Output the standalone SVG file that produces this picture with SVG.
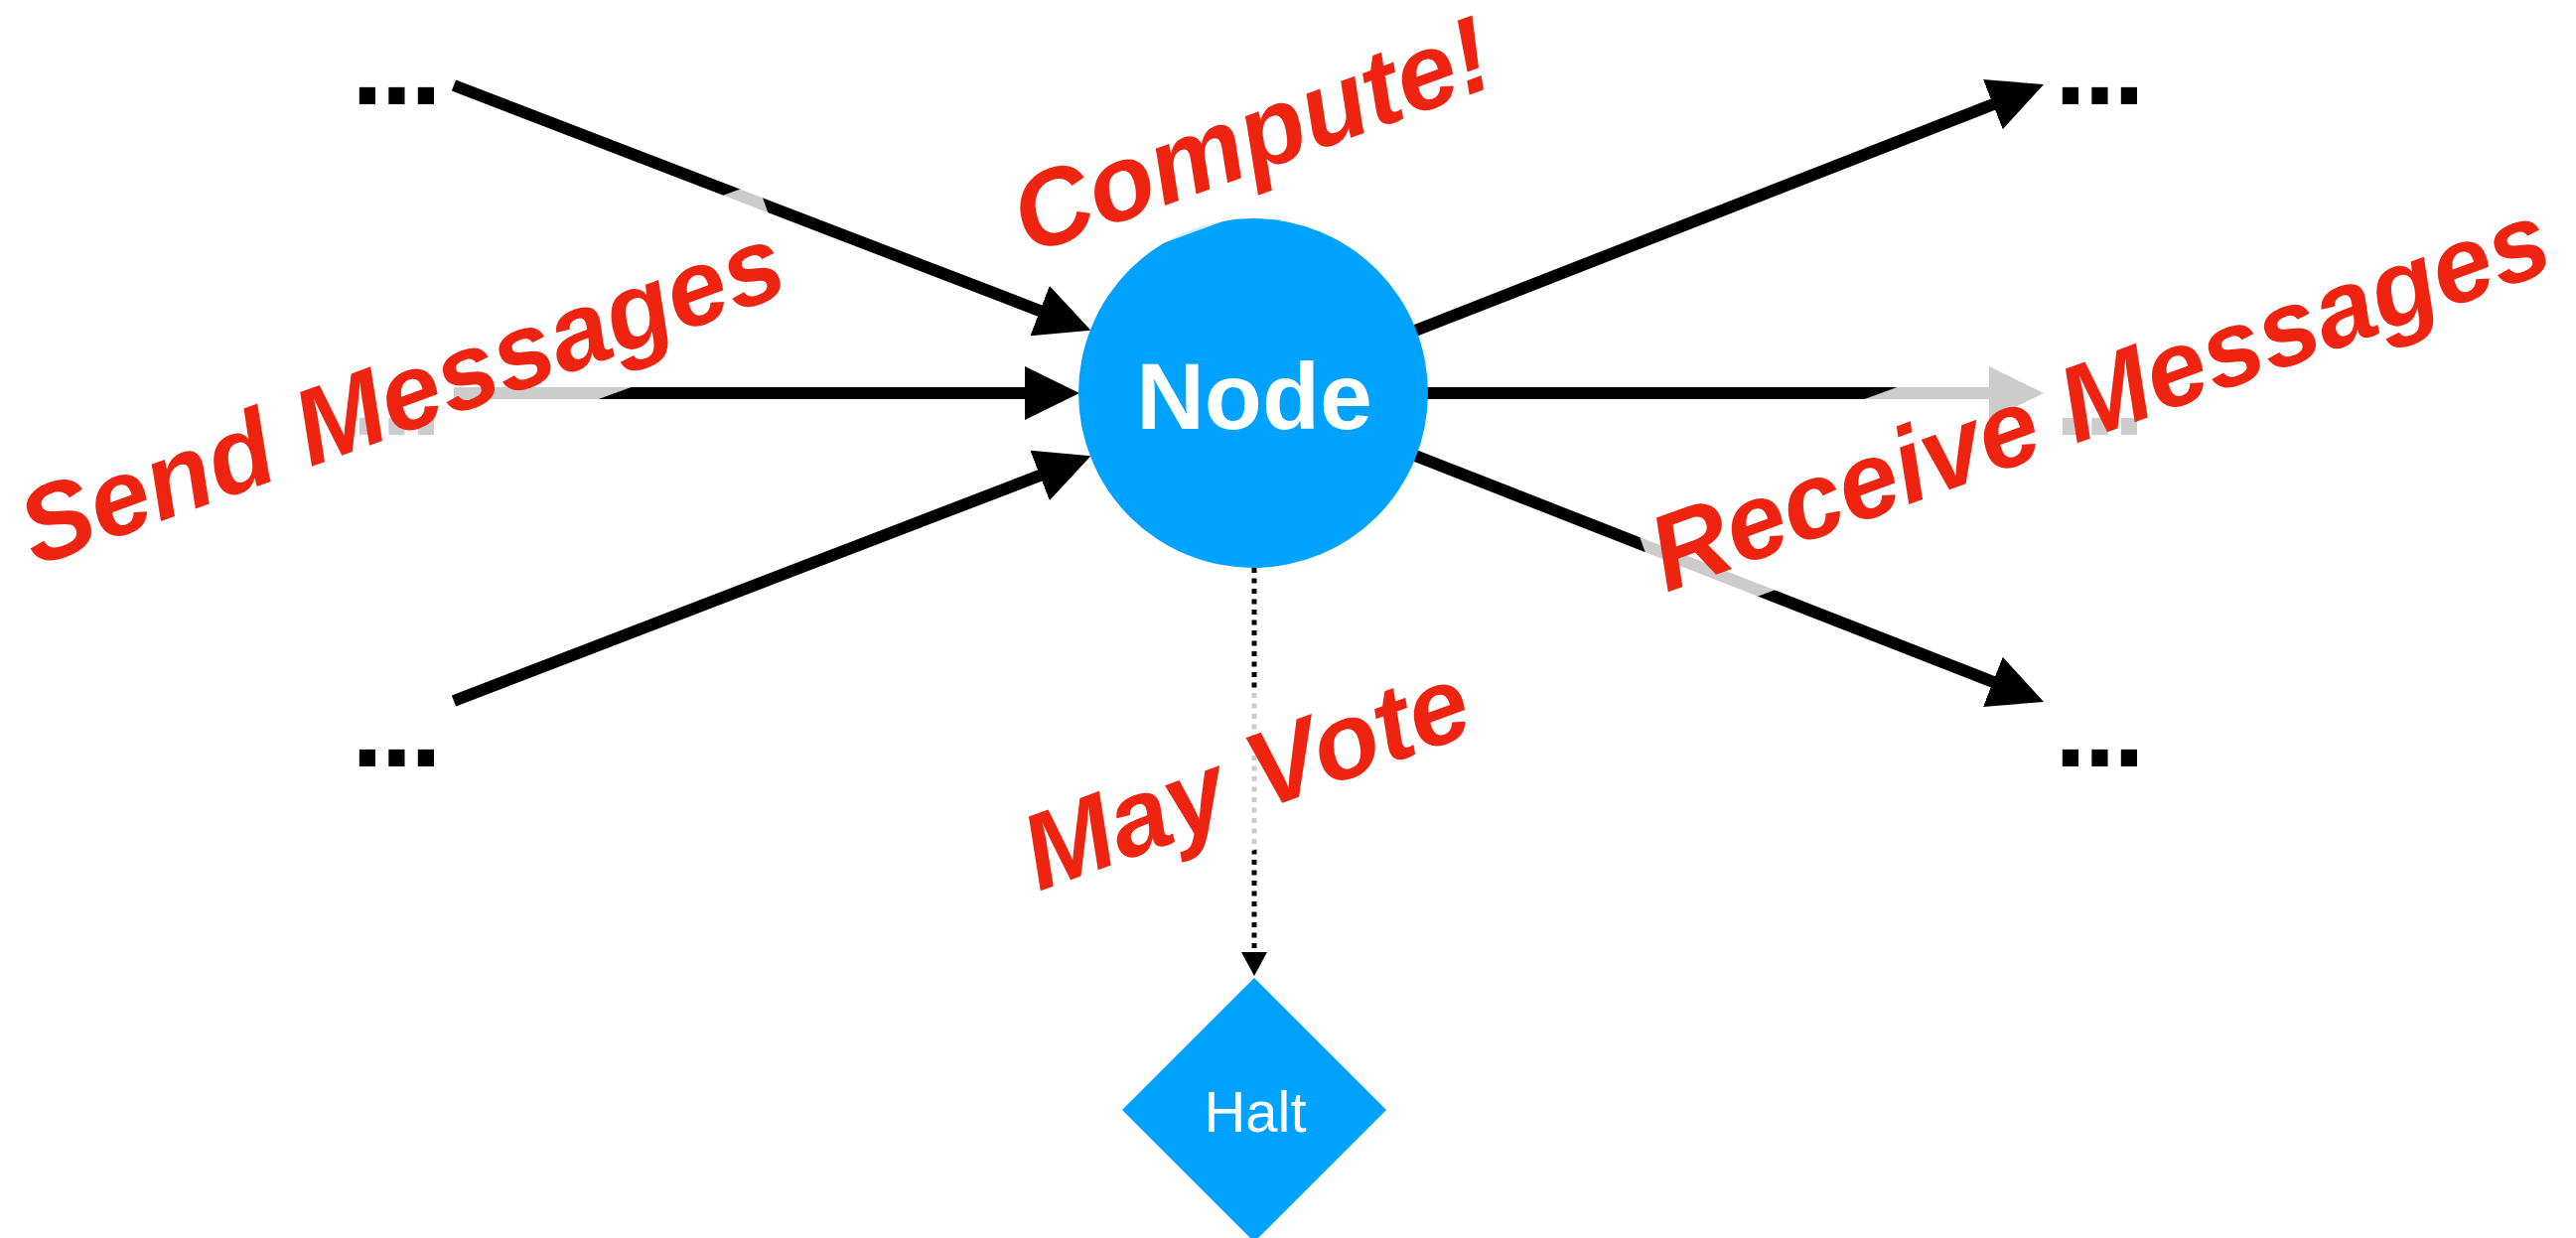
<svg xmlns="http://www.w3.org/2000/svg" width="2594" height="1247" viewBox="0 0 2594 1247">
  <style>
    .edge { stroke: #000; stroke-width: 12; fill: none; }
    .dotted { stroke: #000; stroke-width: 5; stroke-dasharray: 5 5.5; fill: none; }
    .more { font-family: "Liberation Sans", Arial, sans-serif; font-weight: bold; font-size: 115px; letter-spacing: -2.4px; fill: #000; }
    .shape { fill: #00A2FF; }
    .node-text { font-family: "Liberation Sans", Arial, sans-serif; font-weight: bold; font-size: 95px; fill: #fff; text-anchor: middle; }
    .halt-text { font-family: "Liberation Sans", Arial, sans-serif; font-size: 58px; fill: #fff; text-anchor: middle; }
    .tag-bg { fill: #fff; fill-opacity: 0.8; }
    .tag { font-family: "Liberation Sans", Arial, sans-serif; font-weight: bold; font-style: italic; font-size: 108px; fill: #EE2410; }
  </style>
  <defs>
    <marker id="arrow" markerUnits="userSpaceOnUse" viewBox="0 0 55 54" markerWidth="55" markerHeight="54" refX="5" refY="27" orient="auto">
      <path d="M0,0 L55,27 L0,54 Z" fill="#000"/>
    </marker>
    <marker id="arrow-small" markerUnits="userSpaceOnUse" viewBox="0 0 24 26" markerWidth="24" markerHeight="26" refX="3" refY="13" orient="auto">
      <path d="M0,0 L24,13 L0,26 Z" fill="#000"/>
    </marker>
  </defs>

  <!-- connectors -->
  <g id="connectors">
    <line class="edge" x1="457" y1="86" x2="1051.8" y2="314.8" marker-end="url(#arrow)"/>
    <line class="edge" x1="457" y1="396" x2="1037" y2="396" marker-end="url(#arrow)"/>
    <line class="edge" x1="457" y1="706" x2="1051.8" y2="477.2" marker-end="url(#arrow)"/>
    <line class="edge" x1="1420" y1="335" x2="2011.5" y2="103.3" marker-end="url(#arrow)"/>
    <line class="edge" x1="1432" y1="396" x2="2008" y2="396" marker-end="url(#arrow)"/>
    <line class="edge" x1="1420" y1="457" x2="2011.5" y2="688.7" marker-end="url(#arrow)"/>
    <line class="dotted" x1="1263" y1="572" x2="1263" y2="962" marker-end="url(#arrow-small)"/>
  </g>

  <!-- neighbouring vertices, elided -->
  <g id="in-top"><text class="more" x="354" y="105">...</text></g>
  <g id="in-mid"><text class="more" x="354" y="438">...</text></g>
  <g id="in-bottom"><text class="more" x="354" y="772">...</text></g>
  <g id="out-top"><text class="more" x="2069" y="105">...</text></g>
  <g id="out-mid"><text class="more" x="2069" y="438">...</text></g>
  <g id="out-bottom"><text class="more" x="2069" y="772">...</text></g>

  <!-- vertex -->
  <g id="node">
    <circle class="shape" cx="1262" cy="396" r="176"/>
    <text class="node-text" x="1263" y="432">Node</text>
  </g>

  <!-- halt state -->
  <g id="halt">
    <polygon class="shape" points="1263,985 1396,1118 1263,1251 1130,1118"/>
    <text class="halt-text" x="1264" y="1140">Halt</text>
  </g>

  <!-- step labels on translucent white plates -->
  <g id="label-send" transform="translate(36,571) rotate(-20)">
    <rect class="tag-bg" x="-8" y="-115" width="823" height="150"/>
    <text class="tag" x="0" y="0">Send Messages</text>
  </g>
  <g id="label-compute" transform="translate(1036,257) rotate(-20)">
    <rect class="tag-bg" x="-8" y="-115" width="530" height="150"/>
    <text class="tag" x="0" y="0">Compute!</text>
  </g>
  <g id="label-vote" transform="translate(1046,898) rotate(-20)">
    <rect class="tag-bg" x="-8" y="-115" width="500" height="150"/>
    <text class="tag" x="0" y="0">May Vote</text>
  </g>
  <g id="label-receive" transform="translate(1678,597) rotate(-20)">
    <rect class="tag-bg" x="-6" y="-115" width="975" height="150"/>
    <text class="tag" x="0" y="0">Receive Messages</text>
  </g>
</svg>
